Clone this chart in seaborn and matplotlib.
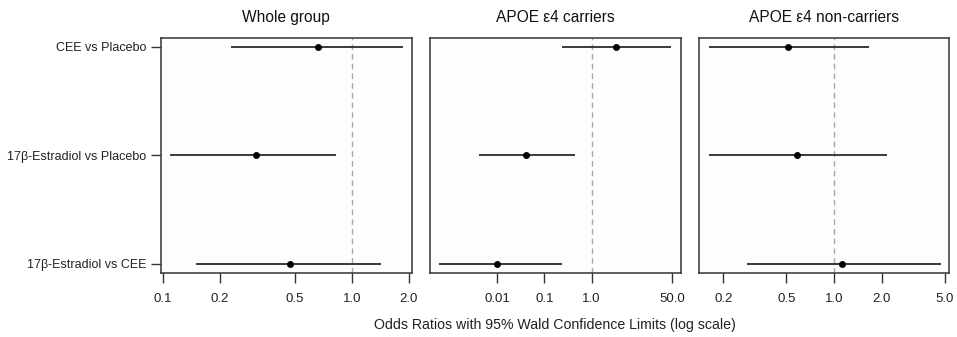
import numpy as np
import pandas as pd
import matplotlib
matplotlib.use("Agg")
import matplotlib.pyplot as plt
import seaborn as sns

sns.set_theme(style="white")
plt.rcParams['font.family'] = ['Liberation Sans', 'DejaVu Sans']

comparisons = ["CEE vs Placebo", "17β-Estradiol vs Placebo", "17β-Estradiol vs CEE"]
panel_titles = ["Whole group", "APOE ε4 carriers", "APOE ε4 non-carriers"]

# odds ratios and 95% CI per panel
or_whole = [0.66, 0.31, 0.47]
lo_whole = [0.23, 0.109, 0.15]
hi_whole = [1.86, 0.83, 1.42]

or_carr = [3.3, 0.040, 0.010]
lo_carr = [0.23, 0.0040, 0.00059]
hi_carr = [48.0, 0.44, 0.23]

or_non = [0.51, 0.58, 1.13]
lo_non = [0.163, 0.163, 0.284]
hi_non = [1.66, 2.15, 4.72]

ticks_whole = [0.1, 0.2, 0.5, 1.0, 2.0]
ticks_carr = [0.01, 0.1, 1.0, 50.0]
ticks_non = [0.2, 0.5, 1.0, 2.0, 5.0]
tick_labels_whole = ["0.1", "0.2", "0.5", "1.0", "2.0"]
tick_labels_carr = ["0.01", "0.1", "1.0", "50.0"]
tick_labels_non = ["0.2", "0.5", "1.0", "2.0", "5.0"]

xlabel = "Odds Ratios with 95% Wald Confidence Limits (log scale)"

panels = [
    (or_whole, lo_whole, hi_whole, ticks_whole, tick_labels_whole, (0.098, 2.07)),
    (or_carr, lo_carr, hi_carr, ticks_carr, tick_labels_carr, (0.000375, 78.0)),
    (or_non, lo_non, hi_non, ticks_non, tick_labels_non, (0.141, 5.35)),
]

fig = plt.figure(figsize=(9.57, 3.37), dpi=100)
lefts = [161, 430, 699.3]
rights = [411.5, 681, 949.3]
top_px, bot_px = 38.3, 272.5
W, H = 957, 337

edge = "#333333"
for i, (orv, lo, hi, ticks, tlabels, xl) in enumerate(panels):
    ax = fig.add_axes([lefts[i] / W, 1 - bot_px / H,
                       (rights[i] - lefts[i]) / W, (bot_px - top_px) / H])
    df = pd.DataFrame({"comparison": comparisons, "OR": orv, "lo": lo, "hi": hi,
                       "pos": np.arange(len(comparisons))})
    ax.set_xscale("log")
    ax.axvline(1.0, color="#a8a8a8", lw=1.0, ls=(0, (4, 3)), zorder=1)
    ax.hlines(df["pos"], df["lo"], df["hi"], color="#3a3a3a", lw=1.4, zorder=2)
    sns.scatterplot(data=df, x="OR", y="pos", ax=ax, color="black", s=20,
                    edgecolor="black", linewidth=0.5, zorder=3, legend=False)
    ax.set_xlim(*xl)
    ax.set_ylim(2.081, -0.077)
    ax.set_xticks(ticks)
    ax.set_xticklabels(tlabels)
    ax.xaxis.set_minor_locator(matplotlib.ticker.NullLocator())
    if i == 0:
        ax.set_yticks(df["pos"])
        ax.set_yticklabels(comparisons)
        ax.tick_params(axis="y", left=True, length=7.5, width=1, color=edge,
                       labelsize=9, pad=3, labelcolor="#222222")
    else:
        ax.set_yticks([])
    ax.tick_params(axis="x", bottom=True, length=7.5, width=1, color=edge,
                   labelsize=9.5, pad=7, labelcolor="#222222")
    ax.set_xlabel("")
    ax.set_ylabel("")
    ax.set_title(panel_titles[i], fontsize=11.2, pad=12, color="#111111")
    ax.set_facecolor("#fdfdfd")
    for sp in ax.spines.values():
        sp.set_color(edge)
        sp.set_linewidth(1.1)
        sp.set_visible(True)

fig.text(((lefts[0] + rights[2]) / 2) / W, 1 - 325 / H, xlabel,
         ha="center", va="center", fontsize=10.2, color="#222222")

fig.savefig("out.png", dpi=100, facecolor="white")
